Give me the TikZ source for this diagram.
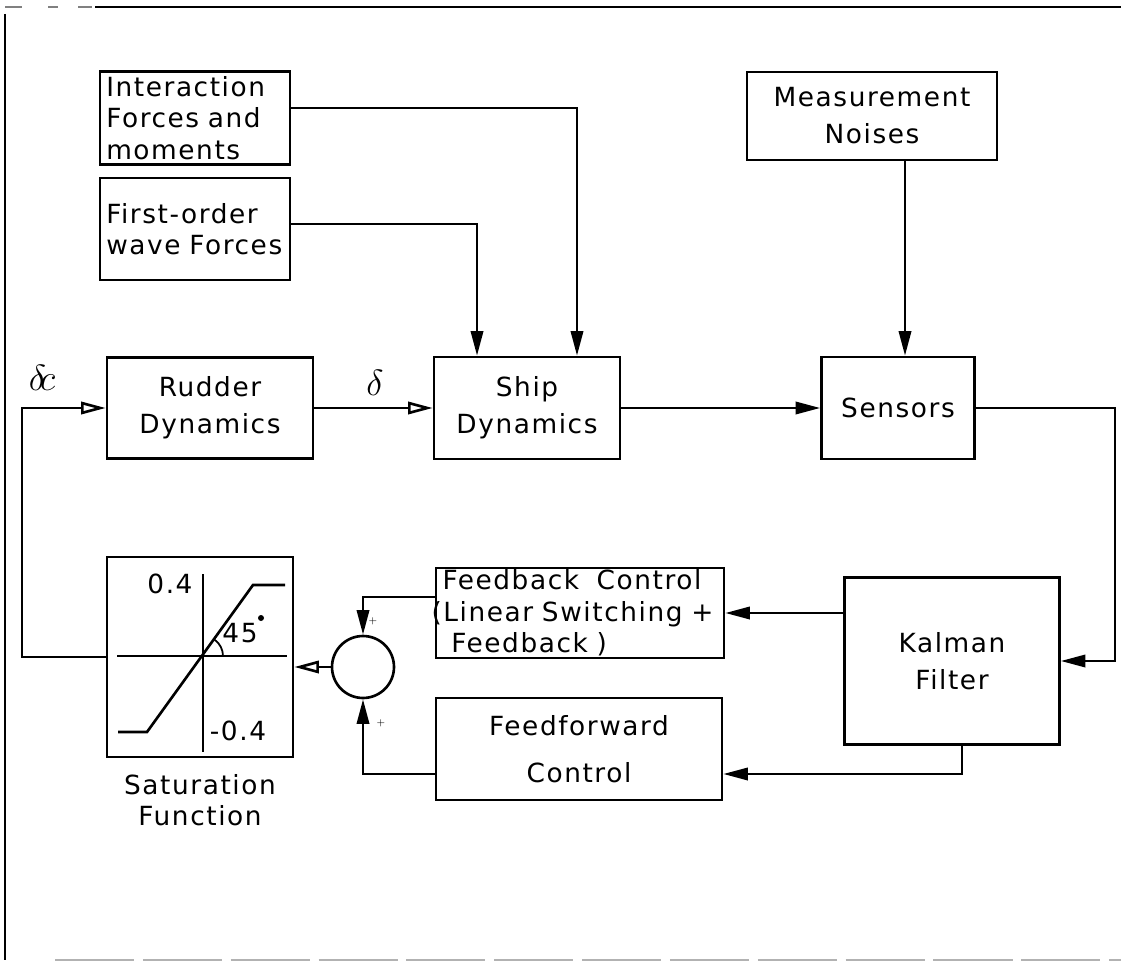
\documentclass[tikz,border=0pt]{standalone}
\usepackage{fontspec}
\newfontfamily\plotfont[LetterSpace=6]{DejaVu Sans}
\usetikzlibrary{arrows.meta,positioning,calc}

\begin{document}
\begin{tikzpicture}[x=0.02cm, y=-0.02cm]

\tikzset{
  block/.style={draw, line width=1.5pt, inner sep=0pt, align=center,
    font=\plotfont\fontsize{15}{18}\selectfont},
  lbl/.style={inner sep=0pt, font=\plotfont\fontsize{15}{18}\selectfont},
  sig/.style={-{Triangle[length=14pt,width=7pt]}, line width=1.5pt},
  opensig/.style={-{Triangle[open,length=14pt,width=7pt]}, line width=1.5pt}
}

\useasboundingbox (0,0) rectangle (1121,962);

% frame of the page
\draw[line width=1.6pt] (95,7) -- (1121,7);
\draw[gray, line width=1pt] (5,7) -- (22,7) (48,7) -- (58,7) (78,7) -- (92,7);
\draw[line width=1.3pt] (5,14) -- (5,960);
\draw[gray!60, line width=1.2pt, dash pattern=on 45pt off 5pt] (55,960) -- (1121,960);

% blocks
\node[block, minimum width=3.8cm, minimum height=1.86cm, text width=3.55cm, align=left] (inter) at (195,118) {Interaction\\Forces and\\moments};
\node[block, minimum width=3.8cm, minimum height=2.04cm, text width=3.55cm, align=left] (wave) at (195,229) {First-order\\wave Forces};
\node[block, minimum width=4.12cm, minimum height=2.02cm] (rudder) at (210,408) {Rudder\\[3pt]Dynamics};
\node[block, minimum width=3.72cm, minimum height=2.04cm] (ship) at (527,408) {Ship\\[3pt]Dynamics};
\node[block, minimum width=5cm, minimum height=1.76cm] (meas) at (872,116) {Measurement\\[3pt]Noises};
\node[block, minimum width=3.06cm, minimum height=2.04cm] (sens) at (898,408) {Sensors};
\node[block, minimum width=4.3cm, minimum height=3.34cm] (kal) at (952,661) {Kalman\\[3pt]Filter};
\node[block, minimum width=5.76cm, minimum height=1.8cm, text width=5.5cm, align=left] (fb) at (580,613) {Feedback\ \ Control\\\hspace*{-0.22cm}(Linear Switching +\\\ Feedback )};
\node[block, minimum width=5.72cm, minimum height=2.04cm] (ff) at (579,749) {Feedforward\\[9pt]Control};
\node[block, minimum width=3.72cm, minimum height=4cm] (sat) at (200,657) {};
\node[draw, circle, line width=1.5pt, minimum size=1.24cm, inner sep=0pt] (sum) at (363,667) {};

% saturation curve
\draw[line width=1.5pt] (117,656) -- (287,656);
\draw[line width=1.5pt] (203,574) -- (203,752);
\draw[line width=1.5pt] (118,732) -- (147,732) -- (253,585) -- (285,585);
\draw[line width=1pt] (223,656) arc[start angle=0, end angle=-54, radius=20];
\node[lbl] (sathi) at (170,584) {0.4};
\node[lbl] (satlo) at (238,731) {-0.4};
\node[lbl] (satang) at (240,633) {45};
\fill (261,618) circle[radius=3];
\node[lbl, align=center] (satname) at (200,800) {Saturation\\Function};

% signals
\draw[sig] ([yshift=0.2cm]inter.east) -| ([xshift=1cm]ship.north);
\draw[sig] ([yshift=0.1cm]wave.east) -| ([xshift=-1cm]ship.north);
\coordinate (mdrop) at ([xshift=0.66cm]meas.south);
\draw[sig] (mdrop) -- (mdrop |- sens.north);
\draw[opensig] (rudder.east) -- (ship.west);
\draw[sig] (ship.east) -- (sens.west);
\coordinate (rline) at (1115,0);
\draw[sig] (sens.east) -| (rline |- kal.east) -- (kal.east);
\draw[sig] (kal.west |- fb.east) -- (fb.east);
\draw[sig] ([xshift=0.2cm]kal.south) |- ([yshift=-0.5cm]ff.east);
\draw[sig] ([yshift=0.32cm]fb.west) -| (sum.north);
\draw[sig] ([yshift=-0.5cm]ff.west) -| (sum.south);
\draw[opensig] (sum.west) -- (sum.west -| sat.east);
\coordinate (lline) at (22,0);
\draw[opensig] (sat.west) -| (lline |- rudder.west) -- (rudder.west);

% labels
\node[font=\fontsize{22}{24}\selectfont] (dl) at (375,383) {$\delta$};
\node[font=\fontsize{22}{24}\selectfont] (dcl) at (42,378) {$\delta\!c$};
\node[font=\tiny] (pa) at (373,621) {+};
\node[font=\tiny] (pb) at (381,723) {+};

\end{tikzpicture}
\end{document}
